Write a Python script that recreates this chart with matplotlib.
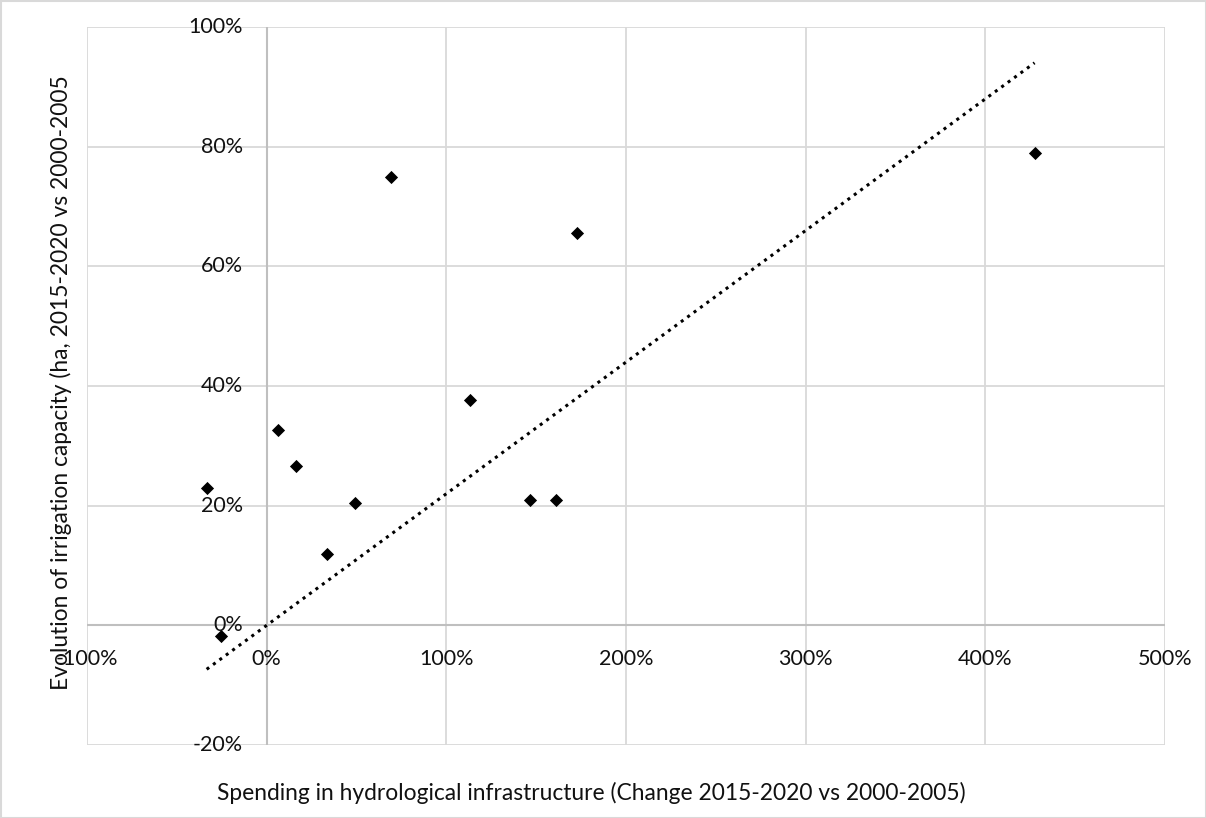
import numpy as np
import matplotlib
matplotlib.use("Agg")
import matplotlib.pyplot as plt
from matplotlib.ticker import MultipleLocator

spending_change = [-33.4, -25.6, 6.1, 16.1, 33.4, 49.0, 69.0, 113.0, 146.4, 160.8, 173.0, 427.4]
irrigation_change = [22.9, -1.8, 32.7, 26.6, 12.0, 20.4, 75.0, 37.6, 20.9, 20.9, 65.5, 79.0]
x_label = "Spending in hydrological infrastructure (Change 2015-2020 vs 2000-2005)"
y_label = "Evolution of irrigation capacity (ha, 2015-2020 vs 2000-2005"

plt.rcParams['font.family'] = ['Lato', 'DejaVu Sans']

W, H = 1206, 818
fig = plt.figure(figsize=(W/100, H/100), dpi=100)
ax = fig.add_axes([87/W, 1-745/H, (1165-87)/W, (745-27)/H])

x = np.array(spending_change)
y = np.array(irrigation_change)

# Trendline through origin (least squares)
slope = np.sum(x*y)/np.sum(x*x)
xt = np.array([x.min(), x.max()])
ax.plot(xt, slope*xt, color='black', linestyle=(0, (1, 1.6)), linewidth=2.2, zorder=3)

ax.scatter(x, y, marker='D', s=45, color='black', zorder=4, linewidths=0)

ax.set_xlim(-100, 500)
ax.set_ylim(-20, 100)
ax.xaxis.set_major_locator(MultipleLocator(100))
ax.yaxis.set_major_locator(MultipleLocator(20))
ax.grid(True, color='#d9d9d9', linewidth=1.3, zorder=0)
ax.set_axisbelow(True)
for s in ax.spines.values():
    s.set_visible(False)
ax.tick_params(length=0, labelbottom=False, labelleft=False)

# axes lines at origin
ax.axhline(0, color='#bfbfbf', linewidth=1.5, zorder=1)
ax.axvline(0, color='#bfbfbf', linewidth=1.5, zorder=1)

fs = 15.5
for v in range(-100, 501, 100):
    ax.annotate(f"{v}%", xy=(v, 0), xytext=(0, -34), textcoords='offset pixels',
                ha='center', va='center', fontsize=fs, color='#111111')
for v in range(-20, 101, 20):
    ax.annotate(f"{v}%", xy=(0, v), xytext=(-24, 0), textcoords='offset pixels',
                ha='right', va='center', fontsize=fs, color='#111111')

fig.text(591/W, 1-793/H, x_label, ha='center', va='center', fontsize=16.4, color='#111111')
fig.text(61/W, 1-383/H, y_label, ha='center', va='center', rotation=90, fontsize=16.4, color='#111111')

# outer border
fig.patches.append(plt.Rectangle((0.5/W, 0.5/H), 1-1/W, 1-1/H, transform=fig.transFigure,
                                 fill=False, edgecolor='#d9d9d9', linewidth=1.5))

fig.savefig("out.png", dpi=100)
